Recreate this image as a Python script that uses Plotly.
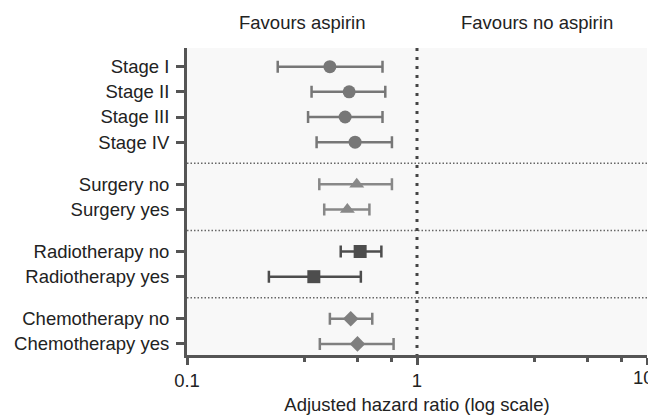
import plotly.graph_objects as go

# ---- data ----
groups = [
    ["Stage I", "Stage II", "Stage III", "Stage IV"],
    ["Surgery no", "Surgery yes"],
    ["Radiotherapy no", "Radiotherapy yes"],
    ["Chemotherapy no", "Chemotherapy yes"],
]
hr = [[0.418, 0.507, 0.487, 0.538], [0.547, 0.498], [0.566, 0.356], [0.515, 0.551]]
ci_low = [[0.248, 0.348, 0.336, 0.366], [0.376, 0.395], [0.466, 0.227], [0.418, 0.378]]
ci_high = [[0.708, 0.728, 0.708, 0.778], [0.778, 0.621], [0.700, 0.570], [0.639, 0.791]]
x_ticks = [0.1, 1, 10]
x_ticklabels = ["0.1", "1", "10"]
x_minor = [0.323, 0.55, 0.774, 3.23, 5.5, 7.74]

# ---- styles ----
symbols = ["circle", "triangle-up", "square", "diamond"]
colors = ["#777777", "#888888", "#4d4d4d", "#7f7f7f"]
sizes = [13, 13, 13, 12]
FONT = "Liberation Sans, Arial, sans-serif"
FS = 18.5
TXT = "#222222"
AX = "#555555"

# row positions (gap between groups)
gap = 0.67
positions = []
seps = []
cur = 0.0
for gi, g in enumerate(groups):
    p = []
    for _ in g:
        p.append(cur)
        cur += 1
    positions.append(p)
    if gi < len(groups) - 1:
        seps.append(cur - 1 + (1 + gap) / 2)
    cur += gap

y_top, y_bot = -0.74, positions[-1][-1] + 0.44

fig = go.Figure()

# vertical reference line at HR = 1
fig.add_trace(go.Scatter(
    x=[1, 1], y=[y_top, y_bot], mode="lines",
    line=dict(color="#444444", width=3, dash="3px,6px"),
    hoverinfo="skip", showlegend=False, cliponaxis=False))

for gi, g in enumerate(groups):
    plus = [h - m for h, m in zip(ci_high[gi], hr[gi])]
    minus = [m - l for m, l in zip(hr[gi], ci_low[gi])]
    fig.add_trace(go.Scatter(
        x=hr[gi], y=positions[gi], mode="markers",
        marker=dict(symbol=symbols[gi], color=colors[gi], size=sizes[gi], line=dict(width=0)),
        error_x=dict(type="data", symmetric=False, array=plus, arrayminus=minus,
                     color=colors[gi], thickness=2.5, width=6),
        showlegend=False, cliponaxis=False))

tickvals = [p for pg in positions for p in pg]
ticktext = [n for g in groups for n in g]

shapes = []
for s in seps:
    shapes.append(dict(type="line", xref="paper", yref="y", x0=0, x1=1, y0=s, y1=s,
                       line=dict(color="#666666", width=1.5, dash="1.5px,2px"), layer="below"))

# the last x tick label is drawn as an annotation nudged left so it stays inside the page
axis_labels = x_ticklabels[:-1] + [""]
annotations = [
    dict(text="Favours aspirin", xref="paper", yref="paper", x=0.25, y=1.083,
         xanchor="center", yanchor="middle", showarrow=False,
         font=dict(family=FONT, size=FS, color=TXT)),
    dict(text="Favours no aspirin", xref="paper", yref="paper", x=0.76, y=1.083,
         xanchor="center", yanchor="middle", showarrow=False,
         font=dict(family=FONT, size=FS, color=TXT)),
    dict(text=x_ticklabels[-1], xref="x", yref="paper", x=1, y=0, yshift=-10,
         xshift=-4, xanchor="center", yanchor="top", showarrow=False,
         font=dict(family=FONT, size=FS, color=TXT)),
]

fig.update_layout(
    width=656, height=415,
    margin=dict(l=179, r=17, t=40, b=68),
    paper_bgcolor="white", plot_bgcolor="#f8f8f8",
    font=dict(family=FONT, size=FS, color=TXT),
    shapes=shapes,
    annotations=annotations,
    xaxis=dict(
        type="log", range=[-1, 1], automargin=False,
        tickvals=x_ticks, ticktext=axis_labels, ticklabeloverflow="allow",
        ticks="outside", ticklen=7, tickwidth=2.5, tickcolor=AX,
        minor=dict(tickvals=x_minor, ticks="outside", ticklen=4, tickwidth=2.5, tickcolor=AX, showgrid=False),
        showline=True, linecolor=AX, linewidth=3,
        showgrid=False, zeroline=False,
        title=dict(text="Adjusted hazard ratio (log scale)", standoff=8,
                   font=dict(family=FONT, size=FS, color=TXT)),
        tickfont=dict(family=FONT, size=FS, color=TXT),
    ),
    yaxis=dict(
        range=[y_bot, y_top], automargin=False,
        tickvals=tickvals, ticktext=ticktext,
        ticks="outside", ticklen=8, tickwidth=3, tickcolor=AX,
        showline=True, linecolor=AX, linewidth=3,
        showgrid=False, zeroline=False,
        ticklabelstandoff=3,
        tickfont=dict(family=FONT, size=FS, color=TXT),
    ),
)

fig.write_html("out.html")
